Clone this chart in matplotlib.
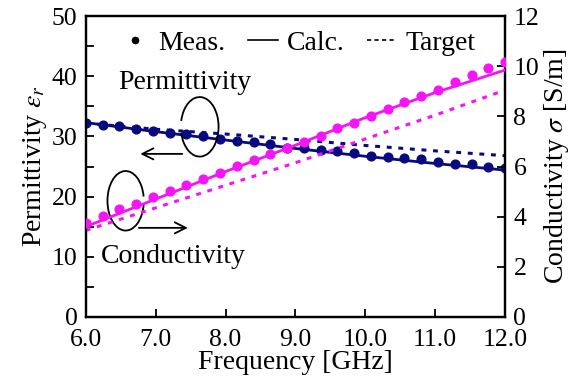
import numpy as np
import matplotlib
matplotlib.use("Agg")
import matplotlib.pyplot as plt
from matplotlib.patches import Arc
from matplotlib.lines import Line2D

plt.rcParams['font.family'] = ['Liberation Serif', 'DejaVu Serif']
plt.rcParams['mathtext.fontset'] = 'stix'

# --- data ---
freq_meas = np.linspace(6.0, 12.0, 26)
perm_meas = [32.2, 31.9, 31.7, 31.2, 30.9, 30.6, 30.4, 30.1, 29.6, 29.2, 29.0, 28.7, 28.1,
             28.0, 27.7, 27.5, 27.2, 26.8, 26.5, 26.4, 26.2, 25.8, 25.5, 25.4, 25.0, 24.8]
cond_meas = [3.76, 4.03, 4.29, 4.51, 4.77, 5.02, 5.26, 5.50, 5.75, 6.02, 6.26, 6.49, 6.73,
             6.99, 7.23, 7.52, 7.75, 8.01, 8.28, 8.56, 8.82, 9.05, 9.36, 9.65, 9.92, 10.16]

freq_line = [6.0, 7.0, 8.0, 9.0, 10.0, 11.0, 12.0]
perm_calc = [32.3, 30.8, 29.4, 28.0, 26.7, 25.5, 24.4]
perm_target = [32.2, 31.2, 30.4, 29.5, 28.5, 27.6, 26.8]
cond_calc = [3.6, 4.7, 5.8, 6.85, 7.95, 8.95, 9.85]
cond_target = [3.45, 4.35, 5.25, 6.15, 7.1, 8.05, 9.05]

NAVY = '#0a0a80'
PINK = '#f514f5'
DASH = (0, (1.6, 2.2))

fig = plt.figure(figsize=(5.72, 3.85), dpi=100)
ax = fig.add_axes([0.150, 0.177, 0.733, 0.781])
ax2 = ax.twinx()

# permittivity (left axis)
ax.plot(freq_line, perm_target, color=NAVY, lw=2.2, ls=DASH, zorder=2)
ax.plot(freq_line, perm_calc, color=NAVY, lw=2.0, zorder=3)
ax.plot(freq_meas, perm_meas, 'o', color=NAVY, ms=6.3, zorder=4)

# conductivity (right axis)
ax2.plot(freq_line, cond_target, color=PINK, lw=2.2, ls=DASH, zorder=2)
ax2.plot(freq_line, cond_calc, color=PINK, lw=2.0, zorder=3)
ax2.plot(freq_meas, cond_meas, 'o', color=PINK, ms=6.3, zorder=4)

ax.set_xlim(6.0, 12.0)
ax.set_ylim(0, 50)
ax2.set_ylim(0, 12)
ax.set_xticks(np.arange(6.0, 12.01, 1.0))
ax.set_xticklabels([f"{v:.1f}" for v in np.arange(6.0, 12.01, 1.0)])
ax.set_yticks(np.arange(0, 51, 10))
ax.set_yticks(np.arange(5, 50, 10), minor=True)
ax2.set_yticks(np.arange(0, 13, 2))

fs = 20
tfs = 18.5
for a in (ax, ax2):
    for s in a.spines.values():
        s.set_linewidth(1.6)
ax.tick_params(axis='both', which='both', direction='in', width=1.3, labelsize=tfs)
ax.tick_params(axis='both', which='major', length=6)
ax.tick_params(axis='y', which='minor', length=6)
ax.tick_params(axis='y', pad=6)
ax.tick_params(axis='x', pad=9)
ax2.tick_params(axis='y', direction='in', width=1.3, length=6, labelsize=tfs, pad=6)

ax.set_xlabel('Frequency [GHz]', fontsize=fs, labelpad=-1)
ax.set_ylabel(r'Permittivity $\varepsilon_r$', fontsize=fs, labelpad=2)
ax2.set_ylabel(r'Conductivity $\sigma$ [S/m]', fontsize=fs, labelpad=2)

# annotations: labels, arcs and arrows
ax.text(7.42, 39.0, 'Permittivity', fontsize=fs, ha='center', va='center')
ax.text(7.25, 10.0, 'Conductivity', fontsize=fs, ha='center', va='center')

ax.add_patch(Arc((7.63, 31.6), 0.54, 9.9, theta1=-105, theta2=105, color='black', lw=1.3, zorder=5))
ax.annotate('', xy=(6.74, 27.1), xytext=(7.42, 27.1),
            arrowprops=dict(arrowstyle='->', color='black', lw=1.3, mutation_scale=20))
ax.add_patch(Arc((6.57, 19.3), 0.52, 9.9, theta1=70, theta2=290, color='black', lw=1.3, zorder=5))
ax.annotate('', xy=(7.5, 14.8), xytext=(6.72, 14.8),
            arrowprops=dict(arrowstyle='->', color='black', lw=1.3, mutation_scale=20))

# legend
handles = [Line2D([], [], ls='none', marker='o', color='black', ms=4.5),
           Line2D([], [], color='black', lw=1.2),
           Line2D([], [], color='black', lw=1.2, ls=(0, (2.5, 2)))]
ax2.legend(handles, ['Meas.', 'Calc.', 'Target'], loc='upper center', bbox_to_anchor=(0.505, 1.035),
           ncol=3, frameon=False, fontsize=fs, handlelength=1.1, handletextpad=0.3,
           columnspacing=0.8)

fig.savefig('out.png', dpi=100)
